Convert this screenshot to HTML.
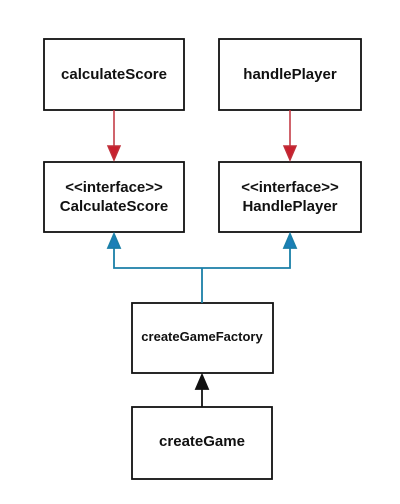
<!DOCTYPE html>
<html><head><style>
body{margin:0;background:#fff;width:400px;height:499px;overflow:hidden}
</style></head><body>
<svg width="400" height="499" xmlns="http://www.w3.org/2000/svg" font-family="Liberation Sans, sans-serif" font-weight="bold" text-anchor="middle">
<g fill="#fff" stroke="#111" stroke-width="1.8">
<rect x="44" y="39" width="140" height="71"/>
<rect x="219" y="39" width="142" height="71"/>
<rect x="44" y="162" width="140" height="70"/>
<rect x="219" y="162" width="142" height="70"/>
<rect x="132" y="303" width="141" height="70"/>
<rect x="132" y="407" width="140" height="72"/>
</g>
<g stroke="#c0303a" stroke-width="1.5" fill="#c8202e">
<line x1="114" y1="110" x2="114" y2="146"/>
<polygon points="108,146 120,146 114,160"/>
<line x1="290" y1="110" x2="290" y2="146"/>
<polygon points="284,146 296,146 290,160"/>
</g>
<g stroke="#1a7fa8" stroke-width="1.8" fill="#1a7fb8">
<polyline fill="none" points="114,248 114,268 290,268 290,248"/>
<line x1="202" y1="268" x2="202" y2="303"/>
<polygon points="108,248 120,248 114,234"/>
<polygon points="284,248 296,248 290,234"/>
</g>
<g stroke="#111" stroke-width="1.8" fill="#111">
<line x1="202" y1="388" x2="202" y2="407"/>
<polygon points="196,389 208,389 202,375"/>
</g>
<g fill="#111" font-size="15">
<text x="114" y="79">calculateScore</text>
<text x="290" y="79">handlePlayer</text>
<text x="114" y="192">&lt;&lt;interface&gt;&gt;</text>
<text x="114" y="211">CalculateScore</text>
<text x="290" y="192">&lt;&lt;interface&gt;&gt;</text>
<text x="290" y="211">HandlePlayer</text>
<text x="202" y="341" font-size="13">createGameFactory</text>
<text x="202" y="446">createGame</text>
</g>
</svg>
</body></html>
